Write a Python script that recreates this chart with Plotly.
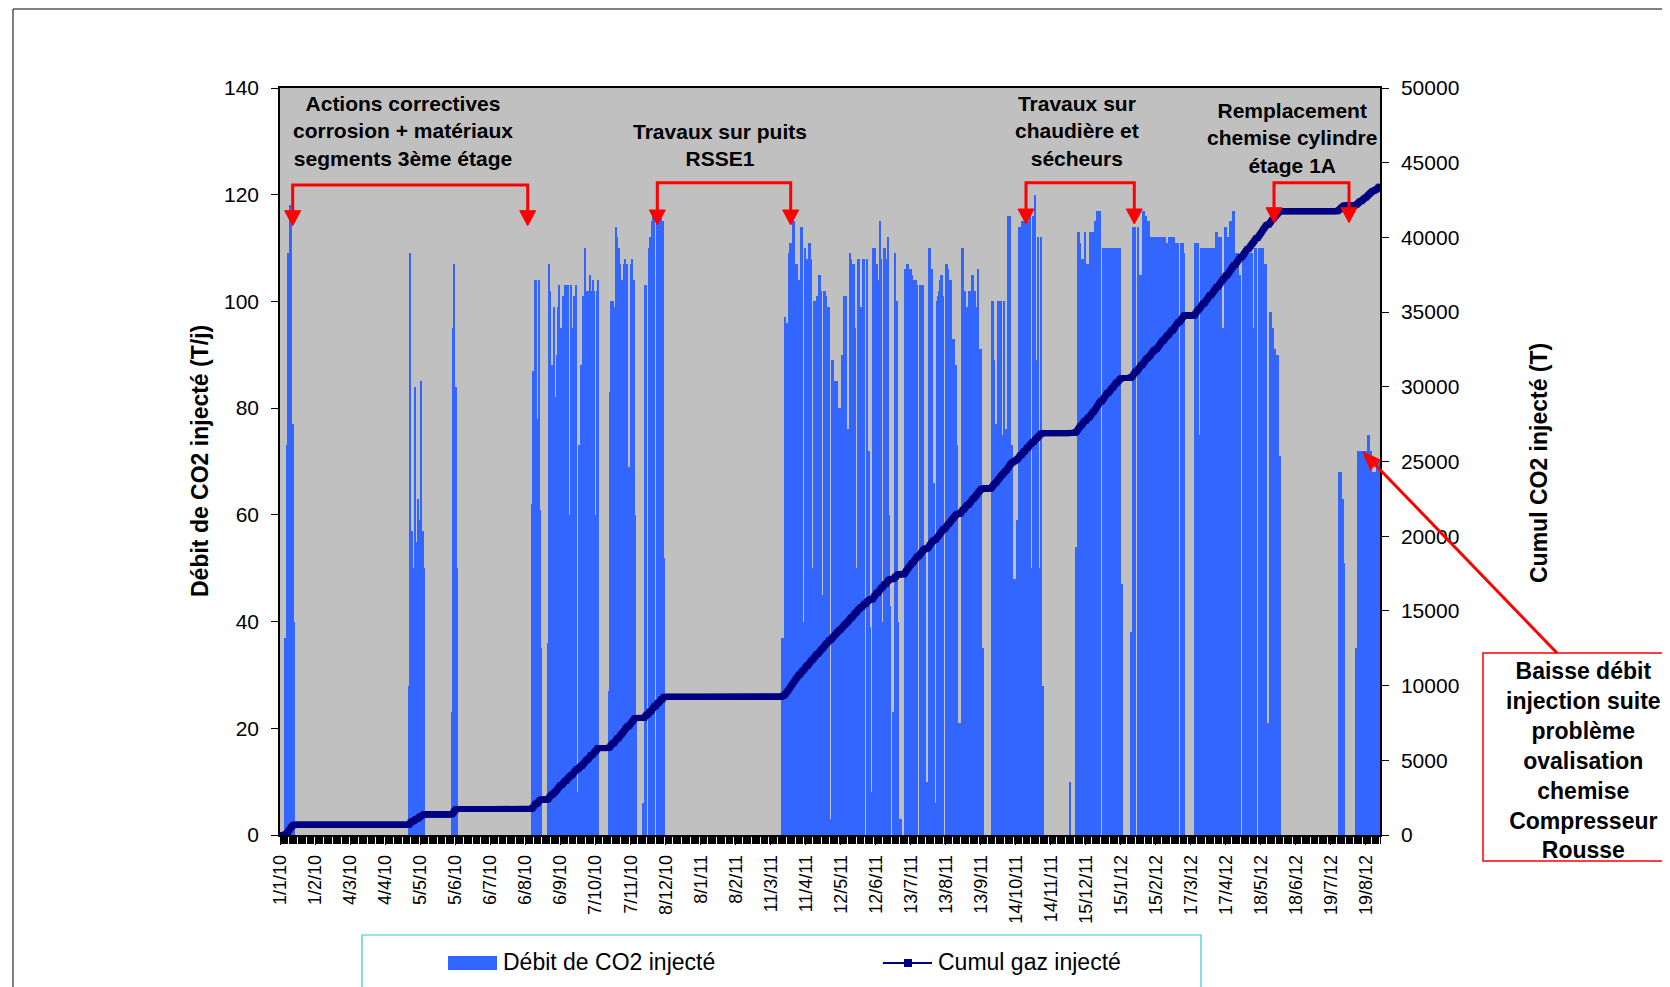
import numpy as np
import pandas as pd
import plotly.graph_objects as go

# ---------------- data : daily CO2 injection rate (T/j), one list per month ----------------
d2010_01 = [0,0,0,0,37,37,73,109,118,116,77,77,40,
            0,0,0,0,0,0,0,0,0,0, 0,0,0,0,0,0,0,0]
d2010_02 = [0,0,0,0,0,0,0,0,0,0, 0,0,0,0,0,0,0,0,0,0, 0,0,0,0,0,0,0,0]
d2010_03 = [0,0,0,0,0,0,0,0,0,0, 0,0,0,0,0,0,0,0,0,0, 0,0,0,0,0,0,0,0,0,0, 0]
d2010_04 = [0,0,0,0,0,0,0,0,0,0, 0,0,0,0,0,0,0,0,0,0, 0,0,0,0, 28,109,57,50,0,84]
d2010_05 = [55,0,63,59,85,0,57,50, 0,0,0,0,0,0,0,0,0,0, 0,0,0,0,0,0,0,0,0,0, 0,0,0]
d2010_06 = [0,23,95,107,84,50, 0,0,0,0,0,0,0,0,0,0, 0,0,0,0,0,0,0,0,0,0, 0,0,0,0]
d2010_07 = [0,0,0,0,0,0,0,0,0,0, 0,0,0,0,0,0,0,0,0,0, 0,0,0,0,0,0,0,0,0,0, 0]
d2010_08 = [0,0,0,0,0,0,0,0,0,0, 0, 62,87,104,104,0,78,104,61,35, 0,0,0,0,0,
            36,107,102,88,0,99]
d2010_09 = [63,82,90,99,103,95,0,101,89,103,0,103,103,60,103,0,95,101,89,103,8,
            73,73,88,0,101,95,110,102,0]
d2010_10 = [102,105,102,0,104,102,60,102,104,0, 0,0,0,0,0,0,0,0,
            27,83,100,100,0,99,114,112,0,110,107,104,70]
d2010_11 = [107,108,100,107,0,69,107,108,96,104,60,22, 0,0,0,0,0, 6,0,
            103,103,0,110,112,0,115,117,116,0,115]
d2010_12 = [116,0,115,117,0,115,52, 0,0,0,0,0,0,0,0,0,0, 0,0,0,0,0,0,0,0,0,0, 0,0,0,0]

d2011_01 = [0,0,0,0,0,0,0,0,0,0, 0,0,0,0,0,0,0,0,0,0, 0,0,0,0,0,0,0,0,0,0, 0]
d2011_02 = [0,0,0,0,0,0,0,0,0,0, 0,0,0,0,0,0,0,0,0,0, 0,0,0,0,0,0,0,0]
d2011_03 = [0,0,0,0,0,0,0,0,0,0, 0,0,0,0,0,0,0,0,0,0,
            37,37,22,97,96,96,109,111,111,111,115]
d2011_04 = [115,107,107,104,104,25,114,114,40,110,108,108,0,111,111,108,50,100,100,99,
            101,0,105,105,102,45,102,102,101,60]
d2011_05 = [99,99,3,89,89,85,85,85,85,80,80,38,
            90,90,101,40,101,76,76,109,108,0,107,107,95,50,108,108,30,99,0]
d2011_06 = [108,108,0,108,72,72,39,8,8,110,
            110,107,107,0,104,115,108,40,110,110,0,108,112,60,43,0,23,0,109,50]
d2011_07 = [100,40,3,3,0,0,0,106,106,107,
            107,106,106,105,40,104,104,104,103,0,103,103,103,103,53,53,10,10,110,110,106]
d2011_08 = [106,66,66,6,100,101,102,104,
            105,105,101,0,107,107,106,50,104,104,93,93,88,88,73,0,21,21,110,110,40,102,99]
d2011_09 = [99,0,102,102,105,105,30,102,99,99,106,91,91,35,35,
            0,0,0,0,0,0,0, 100,100,89,77,77,100,100,100]
d2011_10 = [100,75,75,100,76,76,116,116,116,
            73,73,48,48,48,59,59,114,114,0,115,115,40,115,115,0,115,116,50,116,0,120]
d2011_11 = [89,42,112,50,112,28,28, 0,0,0,0,0,0,0,0,0,0, 0,0,0,0,0,0,0,0,0,0, 0,0,0]
d2011_12 = [10,0,0,0,0,54,54,113,113,111,40,108,108,113,0,107,107,0,113,113,113,50,
            115,115,117,117,117,117,0,110,110]

d2012_01 = [110,110,110,0,110,110,110,40,110,110,110,0,110,110,47,47,
            0,0,0,0,0,0,0, 38,38,114,114,114,0,114,105]
d2012_02 = [105,105,14,117,117,116,115,0,115,53,112,112,112,7,112,0,112,112,112,112,112,0,
            112,111,111,7,112,112,112]
d2012_03 = [0,112,111,111,111,111,0,111,111,111,109, 0,0,0,0,0,0,0,0,0,
            111,111,111,75,75,110,110,110,0,110,110]
d2012_04 = [110,110,110,0,110,110,110,113,113,0,112,112,112,95,95,114,114,0,112,112,
            115,115,117,117,0,109,109,109,105,105]
d2012_05 = [0,108,108,108,110,110,0,109,109,109,95,95,110,110,0,110,110,110,110,110,
            107,107,107,21,21,98,98,95,95,91,91]
d2012_06 = [90,90,71,71, 0,0,0,0,0,0,0,0,0,0, 0,0,0,0,0,0,0,0,0,0, 0,0,0,0,0,0]
d2012_07 = [0,0,0,0,0,0,0,0,0,0, 0,0,0,0,0,0,0,0,0,0, 0,0,0,0,0, 68,68,68,63,63,51]
d2012_08 = [0,0,0,0,0,0,0,0,0, 35,35,72,72,72,0,72,72,72,30,72,75,75,72,72,68,0,68,18,70,70,70]

months = [d2010_01, d2010_02, d2010_03, d2010_04, d2010_05, d2010_06, d2010_07, d2010_08,
          d2010_09, d2010_10, d2010_11, d2010_12,
          d2011_01, d2011_02, d2011_03, d2011_04, d2011_05, d2011_06, d2011_07, d2011_08,
          d2011_09, d2011_10, d2011_11, d2011_12,
          d2012_01, d2012_02, d2012_03, d2012_04, d2012_05, d2012_06, d2012_07, d2012_08]
expected = [31,28,31,30,31,30,31,31,30,31,30,31, 31,28,31,30,31,30,31,31,30,31,30,31,
            31,29,31,30,31,30,31,31]
for i, (m, n) in enumerate(zip(months, expected)):
    assert len(m) == n, f"month {i}: {len(m)} != {n}"

debit = np.array(sum(months, []), dtype=float)
cumul = np.cumsum(debit)
dates = pd.date_range("2010-01-01", periods=len(debit), freq="D")

x_labels = ["1/1/10", "1/2/10", "4/3/10", "4/4/10", "5/5/10", "5/6/10", "6/7/10", "6/8/10",
            "6/9/10", "7/10/10", "7/11/10", "8/12/10", "8/1/11", "8/2/11", "11/3/11", "11/4/11",
            "12/5/11", "12/6/11", "13/7/11", "13/8/11", "13/9/11", "14/10/11", "14/11/11",
            "15/12/11", "15/1/12", "15/2/12", "17/3/12", "17/4/12", "18/5/12", "18/6/12",
            "19/7/12", "19/8/12"]
tick_dates = pd.to_datetime(x_labels, format="%d/%m/%y")

notes = ["Actions correctives<br>corrosion + matériaux<br>segments 3ème étage",
         "Travaux sur puits<br>RSSE1",
         "Travaux sur<br>chaudière et<br>sécheurs",
         "Remplacement<br>chemise cylindre<br>étage 1A"]
callout = "Baisse débit<br>injection suite<br>problème<br>ovalisation<br>chemise<br>Compresseur<br>Rousse"

# ---------------- layout helpers (page pixels -> paper) ----------------
W, H = 1670, 987
OFF = 8                      # page body margin
PL, PR, PT, PB = 280, 1380, 88, 835          # plot area in page pixels
L, R, T, B = PL - OFF, PR - OFF, PT - OFF, PB - OFF


def px(x):
    return (x - PL) / (PR - PL)


def py(y):
    return (PB - y) / (PB - PT)


FONT = "Liberation Sans, Arial, sans-serif"
RED = "#FF0000"

fig = go.Figure()
fig.add_trace(go.Bar(x=dates, y=debit, width=86400000, marker=dict(color="#3366FF", line=dict(width=0)),
                     name="Débit de CO2 injecté"))
fig.add_trace(go.Scatter(x=dates, y=cumul, yaxis="y2", mode="lines+markers",
                         line=dict(color="#000080", width=5),
                         marker=dict(symbol="square", size=6, color="#000080"),
                         name="Cumul gaz injecté"))

shapes = []
annotations = []

# outer chart frame
shapes.append(dict(type="rect", xref="paper", yref="paper", x0=px(13), x1=px(1700), y0=py(9), y1=py(1020),
                   line=dict(color="black", width=1), layer="below"))

# brackets with arrows
brackets = [(292.7, 527.7, 185, 225.7), (657.3, 790.7, 182.7, 225), (1026, 1134.3, 182.7, 224),
            (1274, 1349, 182.7, 222.7)]
for xl, xr, yb, yt in brackets:
    hh, hw = 15, 8
    path = (f"M {px(xl)},{py(yt-hh)} L {px(xl)},{py(yb)} L {px(xr)},{py(yb)} L {px(xr)},{py(yt-hh)}")
    shapes.append(dict(type="path", xref="paper", yref="paper", path=path, line=dict(color=RED, width=3)))
    for xc in (xl, xr):
        tri = f"M {px(xc-hw)},{py(yt-hh)} L {px(xc+hw)},{py(yt-hh)} L {px(xc)},{py(yt)} Z"
        shapes.append(dict(type="path", xref="paper", yref="paper", path=tri, fillcolor=RED,
                           line=dict(color=RED, width=1)))

# note texts
note_pos = [(403, 130.5), (720, 145), (1077, 131.5), (1292, 137.5)]
for txt, (x, y) in zip(notes, note_pos):
    annotations.append(dict(xref="paper", yref="paper", x=px(x), y=py(y), text=f"<b>{txt}</b>",
                            showarrow=False, xanchor="center", yanchor="middle", align="center",
                            font=dict(family=FONT, size=21, color="black")))

# callout box + arrow
shapes.append(dict(type="rect", xref="paper", yref="paper", x0=px(1483), x1=px(1690), y0=py(653), y1=py(861),
                   line=dict(color=RED, width=1.5), fillcolor="white"))
annotations.append(dict(xref="paper", yref="paper", x=px(1583), y=py(760), text=f"<b>{callout}</b>",
                        showarrow=False, xanchor="center", yanchor="middle", align="center",
                        font=dict(family=FONT, size=23, color="black")))
tail = np.array([1557.0, 653.0])
tip = np.array([1363.0, 452.0])
u = (tip - tail) / np.linalg.norm(tip - tail)
n = np.array([-u[1], u[0]])
base = tip - u * 18
c1, c2 = base + n * 7, base - n * 7
shapes.append(dict(type="line", xref="paper", yref="paper", x0=px(tail[0]), y0=py(tail[1]),
                   x1=px(base[0]), y1=py(base[1]), line=dict(color=RED, width=3)))
shapes.append(dict(type="path", xref="paper", yref="paper",
                   path=f"M {px(c1[0])},{py(c1[1])} L {px(c2[0])},{py(c2[1])} L {px(tip[0])},{py(tip[1])} Z",
                   fillcolor=RED, line=dict(color=RED, width=1)))

# axis titles
annotations.append(dict(xref="paper", yref="paper", x=px(200), y=py(461), text="<b>Débit de CO2 injecté (T/j)</b>",
                        textangle=-90, showarrow=False, xanchor="center", yanchor="middle",
                        font=dict(family=FONT, size=23, color="black")))
annotations.append(dict(xref="paper", yref="paper", x=px(1539), y=py(463), text="<b>Cumul CO2 injecté (T)</b>",
                        textangle=-90, showarrow=False, xanchor="center", yanchor="middle",
                        font=dict(family=FONT, size=23, color="black")))

# manual legend
shapes.append(dict(type="rect", xref="paper", yref="paper", x0=px(362), x1=px(1201), y0=py(935), y1=py(1020),
                   line=dict(color="#33CCCC", width=1.2), fillcolor="white"))
shapes.append(dict(type="rect", xref="paper", yref="paper", x0=px(448), x1=px(497), y0=py(956), y1=py(970),
                   line=dict(width=0), fillcolor="#3366FF"))
annotations.append(dict(xref="paper", yref="paper", x=px(501), y=py(962), text="Débit de CO2 injecté",
                        showarrow=False, xanchor="left", yanchor="middle",
                        font=dict(family=FONT, size=23, color="black")))
shapes.append(dict(type="line", xref="paper", yref="paper", x0=px(883), x1=px(932), y0=py(963), y1=py(963),
                   line=dict(color="#000080", width=2)))
shapes.append(dict(type="rect", xref="paper", yref="paper", x0=px(904), x1=px(912), y0=py(959), y1=py(967),
                   line=dict(width=0), fillcolor="#000080"))
annotations.append(dict(xref="paper", yref="paper", x=px(936), y=py(962), text="Cumul gaz injecté",
                        showarrow=False, xanchor="left", yanchor="middle",
                        font=dict(family=FONT, size=23, color="black")))

tickfont = dict(family=FONT, size=21, color="black")
fig.update_layout(
    width=W, height=H, margin=dict(l=L, r=W - R, t=T, b=H - B, pad=0),
    paper_bgcolor="white", plot_bgcolor="#C0C0C0", bargap=0, showlegend=False,
    font=dict(family=FONT, color="black"),
    xaxis=dict(type="date", range=["2009-12-31 12:00", "2012-08-31 12:00"], tickmode="array",
               tickvals=tick_dates, ticktext=x_labels, tickangle=-90,
               tickfont=dict(family=FONT, size=18, color="black"),
               ticks="outside", ticklen=8, tickcolor="black", tickwidth=1,
               minor=dict(tickmode="linear", tick0="2009-12-31 12:00", dtick=86400000, ticks="outside",
                          ticklen=7, tickcolor="black", tickwidth=1, showgrid=False),
               showline=True, linecolor="black", linewidth=1.5, mirror=True,
               showgrid=False, zeroline=False, automargin=False, ticklabelstandoff=3),
    yaxis=dict(range=[0, 140], tickmode="linear", tick0=0, dtick=20, tickfont=tickfont,
               ticks="outside", ticklen=7, tickcolor="black", showline=True, linecolor="black",
               linewidth=1.5, showgrid=False, zeroline=False, automargin=False, ticklabelstandoff=8),
    yaxis2=dict(range=[0, 50000], tickmode="linear", tick0=0, dtick=5000, tickformat="d",
                tickfont=tickfont, overlaying="y", side="right", anchor="x",
                ticks="outside", ticklen=7, tickcolor="black", showline=True, linecolor="black",
                linewidth=1.5, showgrid=False, zeroline=False, automargin=False, ticklabelstandoff=8),
    yaxis3=dict(range=[0, 140], tickmode="linear", tick0=0, dtick=20, overlaying="y", side="left",
                anchor="x", ticks="inside", ticklen=8, tickcolor="black", showticklabels=False,
                showline=False, showgrid=False, zeroline=False),
    yaxis4=dict(range=[0, 50000], tickmode="linear", tick0=0, dtick=5000, overlaying="y", side="right",
                anchor="x", ticks="inside", ticklen=8, tickcolor="black", showticklabels=False,
                showline=False, showgrid=False, zeroline=False),
    shapes=shapes, annotations=annotations,
)

fig.write_html("out.html")
